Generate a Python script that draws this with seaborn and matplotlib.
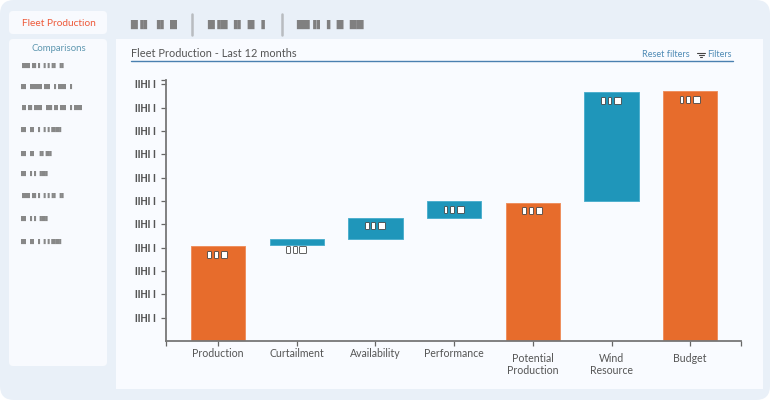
import seaborn as sns
import matplotlib.pyplot as plt
import matplotlib.patheffects as pe
from matplotlib.patches import FancyBboxPatch, Rectangle

categories = ['Production', 'Curtailment', 'Availability', 'Performance',
              'Potential\nProduction', 'Wind\nResource', 'Budget']
bottoms = [0, 413, 439, 529, 0, 600, 0]
tops = [408, 439, 529, 600, 593, 1065, 1071]
kinds = ['total', 'delta', 'delta', 'delta', 'total', 'delta', 'total']
y_ticks = [100, 200, 300, 400, 500, 600, 700, 800, 900, 1000, 1100]
masked_tick = 'IIHI I'
masked_value = '▮ ▮ ■'
nav_items = ['█▐▌ ▐▌ █', '█▐█ ▐▌▐▌▐', '██▐▌▐ ▐▌ ██']
side_items = ['▐█▌█▐ ▐▐▐▌▐▌', '█▌▐██▌█▌▐▐█▌▐', '▐▌█▐█▌▐█▐▌█▌▐▐█▌', '█▌▐▌▐ ▐▐ ██▌', '█▌▐▌ ▐▌█▌',
              '█▌▐▐ ▐█▌', '▐█▌█▐ ▐▐▐▌▐▌', '█▌▐▐ ▐█▌', '█▌▐▌▐ ▐▐ ██▌']
side_y = [65, 86, 107, 129.5, 153, 173, 195, 218, 241]

ORANGE = '#E76C2C'
BLUE = '#1F96BA'
LINK = '#4F8BB5'
COLORS = {'total': ORANGE, 'delta': BLUE}
EDGES = {'total': '#EE8F5F', 'delta': '#4FB0CE'}

sns.set_theme(style='white')
plt.rcParams['font.family'] = ['Lato', 'DejaVu Sans']

fig = plt.figure(figsize=(7.7, 4), dpi=100, facecolor='white')

# page chrome drawn in pixel coordinates
bg = fig.add_axes([0, 0, 1, 1])
bg.set_xlim(0, 770)
bg.set_ylim(400, 0)
bg.axis('off')
bg.add_patch(FancyBboxPatch((0, 0), 770, 400, boxstyle='round,pad=0,rounding_size=14',
                            fc='#E9F0F8', ec='none'))
bg.add_patch(FancyBboxPatch((9, 11), 98, 23, boxstyle='round,pad=0,rounding_size=4',
                            fc='#F8FAFE', ec='none'))
bg.add_patch(FancyBboxPatch((9, 39), 98, 327, boxstyle='round,pad=0,rounding_size=4',
                            fc='#F8FAFE', ec='none'))
bg.add_patch(Rectangle((116, 39), 647, 350, fc='#F9FBFF', ec='none'))

bg.text(59, 23, 'Fleet Production', color='#EE5A3A', fontsize=7.3, ha='center', va='center')
bg.text(59, 48.5, 'Comparisons', color='#5E97B0', fontsize=6.9, ha='center', va='center')
for label, y in zip(side_items, side_y):
    bg.text(20, y, label, color='#888888', fontsize=3.8, ha='left', va='center',
            family='DejaVu Sans')
for label, x in zip(nav_items, [130, 207, 296]):
    bg.text(x, 24, label, color='#808080', fontsize=6.4, ha='left', va='center',
            family='DejaVu Sans')
for x in [191.5, 281.5]:
    bg.plot([x, x], [14, 35], color='#B8BCC0', lw=1.8)

bg.text(131, 53.5, 'Fleet Production - Last 12 months', color='#555555', fontsize=7.9,
        ha='left', va='center')
bg.plot([131, 733], [61.3, 61.3], color='#4A80B0', lw=1)
bg.text(690, 54.5, 'Reset filters', color=LINK, fontsize=6.6, ha='right', va='center')
bg.text(732, 54.5, 'Filters', color=LINK, fontsize=6.5, ha='right', va='center')
for x0, x1, y in [(697, 705, 52.5), (698.5, 703.5, 54.5), (700, 702, 56.5)]:
    bg.plot([x0, x1], [y, y], color='#444444', lw=0.8)

# chart area: x 166-741, y 80-341
ax = fig.add_axes([166 / 770, 1 - 341 / 400, 575 / 770, 261 / 400])
ax.patch.set_alpha(0)

heights = [t - b for t, b in zip(tops, bottoms)]
sns.barplot(x=categories, y=heights, bottom=bottoms, width=0.69, color=ORANGE,
            saturation=1, linewidth=0, ax=ax)
for patch, kind in zip(ax.patches, kinds):
    patch.set_facecolor(COLORS[kind])
    patch.set_edgecolor(EDGES[kind])
    patch.set_linewidth(0.7)

ax.set_xlim(-0.66, 6.645)
ax.set_ylim(0, 1118)
ax.set_yticks(y_ticks, [masked_tick] * len(y_ticks), family='Liberation Sans', weight='bold')
ax.set_yticks([1118], minor=True)
ax.set_xticks([-0.66, 6.645], minor=True)

sns.despine(ax=ax)
for side in ['left', 'bottom']:
    ax.spines[side].set_color('#777777')
    ax.spines[side].set_linewidth(1.3)
ax.tick_params(axis='both', which='both', length=3.5, width=0.9, color='#666666',
               bottom=True, left=True)
ax.tick_params(axis='y', labelsize=7.2, labelcolor='#555555', pad=3.5)
ax.tick_params(axis='x', labelsize=7.6, labelcolor='#555555', pad=1.5)
# the wrapped labels and Budget sit lower than the others
for tick in ax.xaxis.get_major_ticks()[4:]:
    tick.set_pad(5)
for tl in ax.get_xticklabels():
    tl.set_linespacing(1.15)

stroke = [pe.withStroke(linewidth=1.3, foreground='#555555')]
for i, (b, t) in enumerate(zip(bottoms, tops)):
    # Curtailment is too thin to hold its label, it goes under the bar
    y, off = (b, -3.5) if t - b < 40 else (t, -6)
    ax.annotate(masked_value, (i, y), xytext=(0, off), textcoords='offset points',
                ha='center', va='center', color='white', fontsize=5.5,
                family='DejaVu Sans', path_effects=stroke)

fig.savefig('out.png', dpi=100)
